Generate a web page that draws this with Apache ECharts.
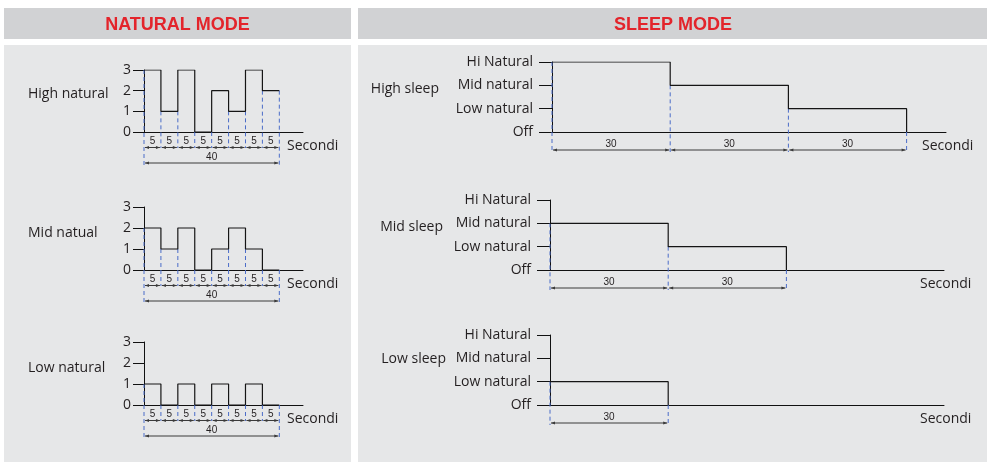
<!DOCTYPE html>
<html>
<head>
<meta charset="utf-8">
<script src="https://cdn.jsdelivr.net/npm/echarts@6/dist/echarts.min.js"></script>
<style>
html, body { margin: 0; padding: 0; background: #fff; }
#chart { width: 987px; height: 462px; }
</style>
</head>
<body>
<div id="chart"></div>
<script>
// natural mode: one level per 5 s slot
var natStep = 5;
var natNames = ['High natural', 'Mid natual', 'Low natural'];
var highNatural = [3, 1, 3, 0, 2, 1, 3, 2];
var midNatural = [2, 1, 2, 0, 1, 2, 1, 0];
var lowNatural = [1, 0, 1, 0, 1, 0, 1, 0];

// sleep mode: one level per 30 s slot
var sleepStep = 30;
var sleepLevels = ['Off', 'Low natural', 'Mid natural', 'Hi Natural'];
var sleepNames = ['High sleep', 'Mid sleep', 'Low sleep'];
var highSleep = [3, 2, 1];
var midSleep = [2, 1];
var lowSleep = [1];

var xName = 'Secondi';
var titles = ['NATURAL MODE', 'SLEEP MODE'];

var font = 'Open Sans';
var ink = '#231f20';
var blue = '#4a6cc8';
var red = '#e3242b';

var myChart = echarts.init(document.getElementById('chart'));

// points for a step line, value holds until next slot
function stepPoints(values, step, dropAtEnd) {
    var pts = [];
    for (var i = 0; i < values.length; i++) {
        pts.push([i * step, values[i]]);
    }
    pts.push([values.length * step, values[values.length - 1]]);
    if (dropAtEnd) pts.push([values.length * step, 0]);
    return pts;
}

// blue dashed guides at each slot border: [x, top level, px below axis]
function borders(values, step, natural) {
    var out = [], n = values.length;
    for (var i = 0; i <= n; i++) {
        var top, drop;
        if (i === 0) top = values[0];
        else if (i === n) top = natural ? values[n - 1] : 0;
        else top = Math.min(values[i - 1], values[i]);
        if (natural) drop = (i === 0 || i === n) ? 34 : 16;
        else drop = 20;
        out.push([i * step, top, drop]);
    }
    return out;
}

// dimension lines: [x0, x1, px below axis]
function dims(values, step, natural) {
    var out = [];
    for (var i = 0; i < values.length; i++) {
        out.push([i * step, (i + 1) * step, natural ? 15.5 : 18]);
    }
    if (natural) out.push([0, values.length * step, 31]);
    return out;
}

function renderBorder(params, api) {
    var x = api.value(0);
    var p = api.coord([x, api.value(1)]);
    var base = api.coord([x, 0]);
    return {
        type: 'line',
        silent: true,
        shape: { x1: p[0], y1: p[1], x2: p[0], y2: base[1] + api.value(2) },
        style: { stroke: blue, lineWidth: 1, lineDash: [4, 3] }
    };
}

function renderDim(params, api) {
    var a = api.coord([api.value(0), 0]);
    var b = api.coord([api.value(1), 0]);
    var y = a[1] + api.value(2);
    var x0 = a[0] + 1, x1 = b[0] - 1;
    return {
        type: 'group',
        silent: true,
        children: [
            { type: 'line', shape: { x1: x0, y1: y, x2: x1, y2: y }, style: { stroke: '#3a3a3a', lineWidth: 1 } },
            { type: 'polygon', shape: { points: [[x0, y], [x0 + 4, y - 1.5], [x0 + 4, y + 1.5]] }, style: { fill: '#3a3a3a' } },
            { type: 'polygon', shape: { points: [[x1, y], [x1 - 4, y - 1.5], [x1 - 4, y + 1.5]] }, style: { fill: '#3a3a3a' } },
            {
                type: 'text',
                style: {
                    text: String(api.value(1) - api.value(0)),
                    x: (x0 + x1) / 2, y: y - 1,
                    align: 'center', verticalAlign: 'bottom',
                    fontSize: 10, fontFamily: 'Liberation Sans', fill: ink
                }
            }
        ]
    };
}

// lift = how far the row name sits above the middle of its axis (px)
var charts = [
    { natural: true, values: highNatural, name: natNames[0], grid: { left: 144, top: 70, width: 159, height: 62 }, gap: 116, lift: 7 },
    { natural: true, values: midNatural, name: natNames[1], grid: { left: 144, top: 207, width: 159, height: 63 }, gap: 116, lift: 5.5 },
    { natural: true, values: lowNatural, name: natNames[2], grid: { left: 144, top: 342, width: 159, height: 63 }, gap: 116, lift: 5 },
    { natural: false, values: highSleep, name: sleepNames[0], grid: { left: 552, top: 62, width: 394, height: 70 }, gap: 113, lift: 8 },
    { natural: false, values: midSleep, name: sleepNames[1], grid: { left: 550, top: 200, width: 394, height: 70 }, gap: 107, lift: 7.5 },
    { natural: false, values: lowSleep, name: sleepNames[2], grid: { left: 550, top: 335, width: 394, height: 70 }, gap: 104, lift: 11 }
];

var grids = [], xAxes = [], yAxes = [], series = [];

charts.forEach(function (c, i) {
    var step = c.natural ? natStep : sleepStep;
    grids.push(c.grid);
    xAxes.push({
        gridIndex: i,
        type: 'value',
        min: 0,
        max: c.natural ? 47 : 100,
        axisLine: { show: true, lineStyle: { color: '#111', width: 1 } },
        axisTick: { show: false },
        axisLabel: { show: false },
        splitLine: { show: false },
        name: xName,
        nameLocation: 'end',
        nameGap: c.natural ? -16 : -24,
        nameTextStyle: { fontFamily: font, fontSize: 14, color: ink, verticalAlign: 'top', padding: [7, 0, 0, 0] }
    });
    yAxes.push({
        gridIndex: i,
        type: 'value',
        min: 0,
        max: 3,
        interval: 1,
        axisLine: { show: true, lineStyle: { color: '#111', width: 1 } },
        axisTick: { show: true, length: c.natural ? 11 : 13, lineStyle: { color: '#111' } },
        axisLabel: {
            margin: c.natural ? 13 : 19,
            fontFamily: font,
            fontSize: 14,
            color: ink,
            formatter: c.natural ? null : function (v) { return sleepLevels[v]; }
        },
        splitLine: { show: false },
        name: c.name,
        nameLocation: 'middle',
        nameRotate: 0,
        nameGap: c.gap,
        nameTextStyle: {
            fontFamily: font, fontSize: 14, color: ink,
            align: c.natural ? 'left' : 'right',
            verticalAlign: 'bottom',
            lineHeight: 2 * c.lift
        }
    });
    series.push({
        type: 'line',
        xAxisIndex: i,
        yAxisIndex: i,
        step: 'end',
        symbol: 'none',
        silent: true,
        lineStyle: { color: '#151515', width: 1.2 },
        data: stepPoints(c.values, step, !c.natural)
    });
    series.push({
        type: 'custom',
        xAxisIndex: i,
        yAxisIndex: i,
        clip: false,
        renderItem: renderBorder,
        data: borders(c.values, step, c.natural)
    });
    series.push({
        type: 'custom',
        xAxisIndex: i,
        yAxisIndex: i,
        clip: false,
        renderItem: renderDim,
        data: dims(c.values, step, c.natural)
    });
});

var option = {
    animation: false,
    graphic: [
        { type: 'rect', z: -10, shape: { x: 4, y: 8, width: 347, height: 31 }, style: { fill: '#d1d2d4' } },
        { type: 'rect', z: -10, shape: { x: 358, y: 8, width: 629, height: 31 }, style: { fill: '#d1d2d4' } },
        { type: 'rect', z: -10, shape: { x: 4, y: 45, width: 347, height: 417 }, style: { fill: '#e6e7e8' } },
        { type: 'rect', z: -10, shape: { x: 358, y: 45, width: 629, height: 417 }, style: { fill: '#e6e7e8' } },
        { type: 'text', z: -5, x: 177.5, y: 25, style: { text: titles[0], align: 'center', verticalAlign: 'middle', font: 'bold 18px "Liberation Sans"', fill: red } },
        { type: 'text', z: -5, x: 673, y: 25, style: { text: titles[1], align: 'center', verticalAlign: 'middle', font: 'bold 18px "Liberation Sans"', fill: red } }
    ],
    grid: grids,
    xAxis: xAxes,
    yAxis: yAxes,
    series: series
};

myChart.setOption(option);
</script>
</body>
</html>
